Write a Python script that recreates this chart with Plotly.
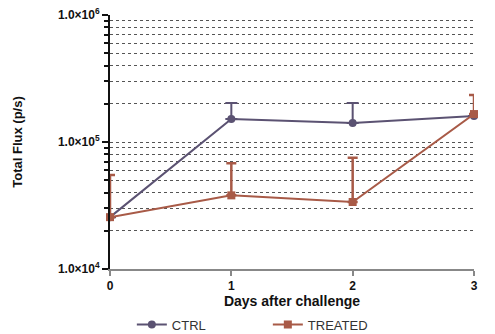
import plotly.graph_objects as go

days = [0, 1, 2, 3]
ctrl = [25600, 152000, 141000, 160000]
ctrl_err = [0, 51000, 62000, 0]
treated = [25600, 38000, 33700, 166000]
treated_err = [29400, 30000, 41300, 68000]

ytickvals = [1e4, 1e5, 1e6]
yticktext = ["<b>1.0×10<sup>4</sup></b>", "<b>1.0×10<sup>5</sup></b>", "<b>1.0×10<sup>6</sup></b>"]

CTRL_C = "#5b5272"
TRT_C = "#a85a47"

fig = go.Figure()
fig.add_trace(go.Scatter(
    x=days, y=ctrl, name="CTRL", mode="lines+markers",
    line=dict(color=CTRL_C, width=2),
    marker=dict(symbol="circle", size=8, color=CTRL_C),
    error_y=dict(type="data", array=ctrl_err, arrayminus=[0]*4, color=CTRL_C,
                 thickness=2, width=6),
    cliponaxis=False,
))
fig.add_trace(go.Scatter(
    x=days, y=treated, name="TREATED", mode="lines+markers",
    line=dict(color=TRT_C, width=2),
    marker=dict(symbol="square", size=8, color=TRT_C),
    error_y=dict(type="data", array=treated_err, arrayminus=[0]*4, color=TRT_C,
                 thickness=2.5, width=5),
    cliponaxis=False,
))

fig.update_layout(
    width=495, height=334,
    margin=dict(l=110, r=21, t=15, b=65, autoexpand=False),
    paper_bgcolor="white", plot_bgcolor="white",
    font=dict(family="Liberation Sans, Arial", color="#222"),
    showlegend=True,
    legend=dict(orientation="h", x=0.06, y=-0.16, xanchor="left", yanchor="top",
                font=dict(size=13, color="#333"), entrywidth=91, entrywidthmode="pixels",
                itemwidth=30, tracegroupgap=0),
    xaxis=dict(
        range=[0, 3], tickvals=days, ticktext=["<b>%d</b>" % d for d in days],
        showgrid=False, zeroline=False,
        showline=True, linecolor="#888", linewidth=2,
        ticks="outside", ticklen=5, tickwidth=2, tickcolor="#888",
        tickfont=dict(size=12, color="#111"),
        title=dict(text="<b>Days after challenge</b>", font=dict(size=14, color="#111"), standoff=2),
    ),
    yaxis=dict(
        type="log", range=[4, 6],
        tickmode="array", tickvals=ytickvals, ticktext=yticktext,
        ticklabeloverflow="allow",
        showgrid=False, zeroline=False,
        showline=True, linecolor="#111", linewidth=2,
        ticks="outside", ticklen=6, tickwidth=2, tickcolor="#111",
        tickfont=dict(size=12, color="#111"),
        minor=dict(dtick="D1", ticks="outside", ticklen=4, tickwidth=1.5, tickcolor="#111",
                   showgrid=True, gridcolor="#555", griddash="dot", gridwidth=1),
        title=dict(text="<b>Total Flux (p/s)</b>", font=dict(size=13, color="#111"), standoff=32),
    ),
)

fig.write_html("out.html", config={"displayModeBar": False},
               post_script="document.body.style.margin='0';")
